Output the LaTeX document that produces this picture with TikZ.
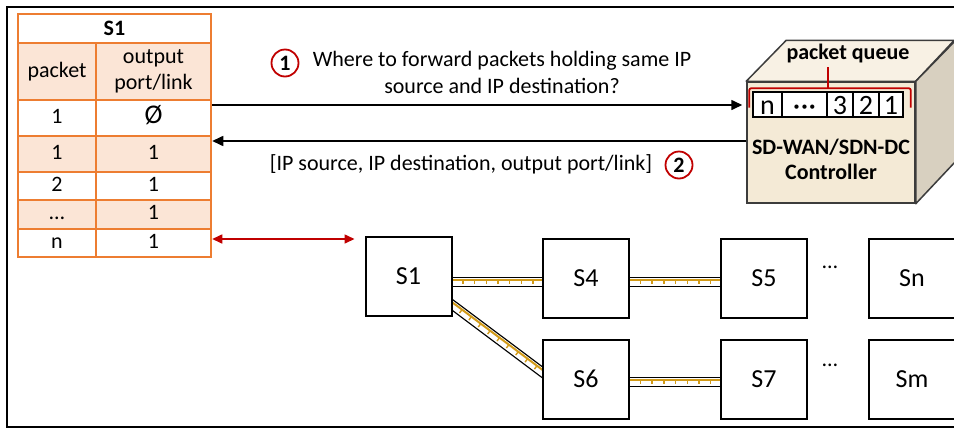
\documentclass[tikz,border=0pt]{standalone}
\usepackage{fontspec}
\setmainfont{Carlito}
\usetikzlibrary{arrows.meta,calc,backgrounds}

\definecolor{tabor}{RGB}{237,125,49}
\definecolor{tabfill}{RGB}{251,229,214}
\definecolor{darkred}{RGB}{192,0,0}
\definecolor{gold}{RGB}{210,155,25}
\definecolor{cubefront}{RGB}{244,234,214}
\definecolor{cubetop}{RGB}{248,241,228}
\definecolor{cubeside}{RGB}{216,208,192}
\definecolor{cubeedge}{RGB}{60,60,60}

\newcommand\basefont{\fontsize{22}{27}\selectfont}

\tikzset{
  cell/.style={draw=tabor, line width=2.5pt, inner sep=0pt, align=center},
  hcell/.style={cell, fill=tabfill},
  rowcell/.style={cell, text height=15pt, text depth=5pt},
  sw/.style={draw, line width=2pt, fill=white, minimum width=86pt, minimum height=79pt, inner sep=0pt,
    font=\fontsize{26}{30}\selectfont},
  qcell/.style={draw, line width=1.5pt, fill=white, minimum height=25pt, inner sep=0pt,
    text height=19pt, text depth=0pt, font=\fontsize{28}{28}\selectfont},
  num/.style={circle, draw=darkred, line width=1.8pt, minimum size=27pt, inner sep=0pt,
    font=\basefont\bfseries},
  arr/.style={line width=1.6pt, -{Triangle[length=11pt,width=10pt]}},
  redarr/.style={line width=1.6pt, darkred, {Triangle[length=10pt,width=9pt]}-{Triangle[length=10pt,width=9pt]}},
}

% a link drawn as a hatched pipe between two points
\newcommand\pipelink[2]{%
  \draw[line width=10pt, shorten <=-4pt, shorten >=-4pt] (#1) -- (#2);
  \draw[line width=7.4pt, white, shorten <=-4pt, shorten >=-4pt] (#1) -- (#2);
  \draw[gold, line width=2pt, shorten <=-4pt, shorten >=-4pt]
    ($(#1)!2pt!90:(#2)$) -- ($(#2)!2pt!-90:(#1)$);
  \draw[gold, line width=4.4pt, dash pattern=on 1.4pt off 10.3pt, shorten <=-2pt, shorten >=-4pt] (#1) -- (#2);
}

\begin{document}
\begin{tikzpicture}[x=1pt, y=-1pt, font=\basefont]
\useasboundingbox (0,0) rectangle (954,429);

% frame
\draw[line width=2pt] (958,7) -- (7,7) -- (7,427) -- (958,427);

% flow table of S1
\node[cell, minimum width=193pt, minimum height=29pt, font=\basefont\bfseries] (ttl) at (114.5,28.5) {S1};
\node[hcell, minimum width=78pt, minimum height=57pt] (h1) at (57,71.5) {packet};
\node[hcell, minimum width=115pt, minimum height=57pt, font=\fontsize{22}{26}\selectfont] (h2) at (153.5,71.5) {output\\port/link};
\foreach \i/\y/\h/\a/\b/\f in {1/118/36/1/{\fontsize{27}{27}\selectfont Ø}/white, 2/154/36/1/1/tabfill,
                              3/186/28/2/1/white, 4/214.5/29/…/1/tabfill, 5/243/28/n/1/white}{
  \node[rowcell, fill=\f, minimum width=78pt, minimum height=\h pt] (r\i a) at (57,\y) {\a};
  \node[rowcell, fill=\f, minimum width=115pt, minimum height=\h pt] (r\i b) at (153.5,\y) {\b};
}

% controller cube
\node[draw=cubeedge, line width=1.5pt, fill=cubefront, minimum width=168pt, minimum height=121pt] (ctrl) at (831,142.5) {};
\draw[cubeedge, line width=1.5pt, fill=cubetop, line join=round]
  (ctrl.north west) -- ++(40,-41) -- ++(168,0) -- (ctrl.north east) -- cycle;
\draw[cubeedge, line width=1.5pt, fill=cubeside, line join=round]
  (ctrl.north east) -- ++(40,-41) -- ++(0,121) -- (ctrl.south east) -- cycle;

% packet queue
\node[qcell, minimum width=29pt] (qn) at (767.5,104.5) {n};
\node[qcell, minimum width=45pt, text height=12pt] (qd) at (804.5,104.5) {\fontsize{12}{12}\selectfont •\kern2pt•\kern2pt•};
\node[qcell, minimum width=26pt] (q3) at (840,104.5) {3};
\node[qcell, minimum width=26pt] (q2) at (866,104.5) {2};
\node[qcell, minimum width=24pt] (q1) at (891,104.5) {1};
\node[font=\basefont\bfseries] (qlbl) at (848,54) {packet queue};
\draw[darkred, line width=1.8pt, rounded corners=2pt]
  ($(qn.west)+(-3,3)$) |- ($(q1.north east)+(7,-3)$) -- ($(q1.east)+(7,3)$);
\coordinate (qmid) at ($(qn.north west)!0.5!(q1.north east)+(0,-3)$);
\draw[darkred, line width=1.8pt] (qmid) -- (qlbl.south -| qmid);
\node[align=center, font=\fontsize{22}{25}\selectfont\bfseries] (clbl) at (831,159) {SD-WAN/SDN-DC\\Controller};

% request and reply
\node[num] (n1) at (285,63) {1};
\node[align=center] (txt1) at (502,72) {Where to forward packets holding same IP\\source and IP destination?};
\node (txt2) at (461,164) {[IP source, IP destination, output port/link]};
\node[num] (n2) at (679,165) {2};
\draw[arr, shorten >=4pt] (r1b.east |- 0,105) -- (ctrl.west |- 0,105);
\draw[arr] (ctrl.west |- 0,141) -- (r2b.east |- 0,141);

% switches
\node[sw] (s1) at (408.5,276.5) {S1};
\node[sw] (s4) at (586,278.5) {S4};
\node[sw] (s5) at (764,278.5) {S5};
\node[sw] (sn) at (912,278.5) {Sn};
\node[sw] (s6) at (586,379) {S6};
\node[sw] (s7) at (764,379.5) {S7};
\node[sw] (sm) at (912,379.5) {Sm};
\node (dots1) at (830,267) {…};
\node (dots2) at (830,365) {…};

\draw[redarr, shorten >=10pt] (r5b.east |- 0,239) -- (s1.west |- 0,239);

% links between switches
\coordinate (l1a) at (s1.east |- 0,282);
\coordinate (l1b) at (s4.west |- 0,282);
\coordinate (l2a) at (s4.east |- 0,282);
\coordinate (l2b) at (s5.west |- 0,282);
\coordinate (l3a) at (s6.east |- 0,382);
\coordinate (l3b) at (s7.west |- 0,382);
\coordinate (l4a) at ($(s1.east)+(0,28.5)$);
\coordinate (l4b) at ($(s6.west)+(0,-7)$);
\begin{pgfonlayer}{background}
  \pipelink{l1a}{l1b}
  \pipelink{l2a}{l2b}
  \pipelink{l3a}{l3b}
  \pipelink{l4a}{l4b}
\end{pgfonlayer}
\end{tikzpicture}
\end{document}
